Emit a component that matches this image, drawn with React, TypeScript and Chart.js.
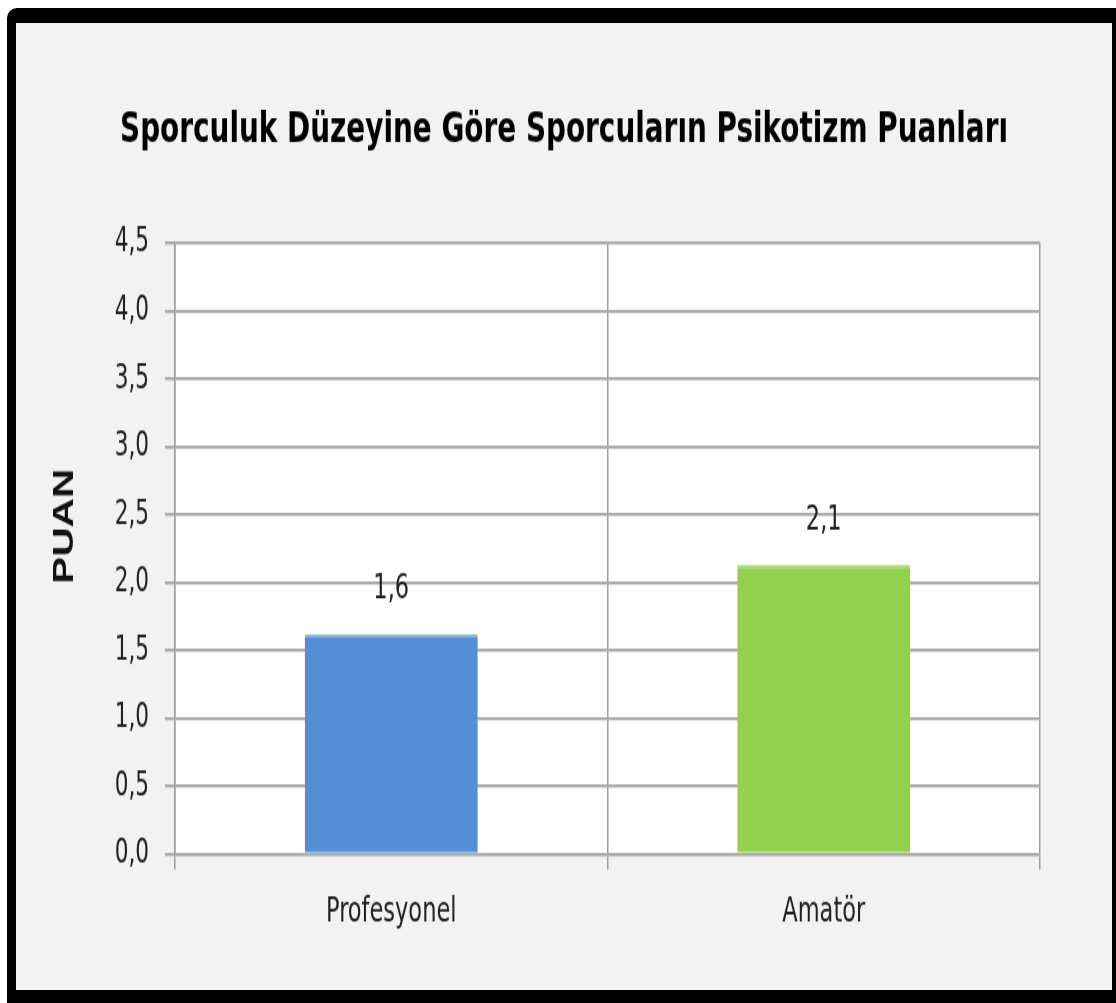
import React, { useEffect, useRef } from 'react';
import { Chart, registerables } from 'chart.js';

Chart.register(...registerables);

const titleText = 'Sporculuk Düzeyine Göre Sporcuların Psikotizm Puanları';
const yAxisTitle = 'PUAN';
const categories = ['Profesyonel', 'Amatör'];
const scores = [1.62, 2.13];
const barColors = ['#558ed5', '#92d050'];
const barTopColors = ['#8db4e2', '#a6da6c'];
const yMin = 0;
const yMax = 4.5;
const yStep = 0.5;

const NARROW = "'Liberation Sans Narrow', 'DejaVu Sans Condensed', 'Open Sans', sans-serif";
const CANVAS_W = 1096;
const FINAL_H = 967;
const CANVAS_H = 691;
const STRETCH = FINAL_H / CANVAS_H;

const fmt = (v: number) => v.toFixed(1).replace('.', ',');

const plotBg = {
  id: 'plotBg',
  beforeDraw(chart: any) {
    const { ctx, chartArea } = chart;
    ctx.save();
    ctx.fillStyle = '#ffffff';
    ctx.fillRect(chartArea.left, chartArea.top, chartArea.right - chartArea.left, chartArea.bottom - chartArea.top);
    ctx.restore();
  },
};

const valueLabels = {
  id: 'valueLabels',
  afterDatasetsDraw(chart: any) {
    const { ctx } = chart;
    const meta = chart.getDatasetMeta(0);
    const data = chart.data.datasets[0].data as number[];
    ctx.save();
    ctx.font = `25px ${NARROW}`;
    ctx.fillStyle = '#222222';
    ctx.textAlign = 'center';
    ctx.textBaseline = 'middle';
    meta.data.forEach((bar: any, i: number) => {
      ctx.fillText(fmt(data[i]), bar.x, bar.y - 32);
    });
    ctx.restore();
  },
};

const yTitlePlugin = {
  id: 'yTitlePlugin',
  afterDraw(chart: any) {
    const { ctx, chartArea } = chart;
    ctx.save();
    ctx.translate(chartArea.left - 110, (chartArea.top + chartArea.bottom) / 2 - 16);
    ctx.rotate(-Math.PI / 2);
    ctx.font = "bold 29px 'Liberation Sans', Arial, sans-serif";
    ctx.fillStyle = '#111111';
    ctx.textAlign = 'center';
    ctx.textBaseline = 'middle';
    ctx.fillText(yAxisTitle, 0, 0);
    ctx.restore();
  },
};

function BarChart() {
  const ref = useRef<HTMLCanvasElement | null>(null);
  useEffect(() => {
    if (!ref.current) return;
    const chart = new Chart(ref.current, {
      type: 'bar',
      data: {
        labels: categories,
        datasets: [
          {
            data: scores,
            backgroundColor: barColors,
            borderColor: barTopColors,
            borderWidth: { top: 2, left: 0, right: 0, bottom: 0 },
            borderSkipped: 'start',
            barPercentage: 0.4,
            categoryPercentage: 1,
            yAxisID: 'y',
          },
        ],
      },
      options: {
        responsive: false,
        animation: false,
        devicePixelRatio: 1,
        layout: { padding: 0 },
        plugins: {
          legend: { display: false },
          tooltip: { enabled: false },
          title: {
            display: true,
            text: titleText,
            color: '#000000',
            font: { family: NARROW, size: 31, weight: 'bold', lineHeight: 1.2 },
            padding: { top: 58, bottom: 62 },
          },
        },
        scales: {
          x: {
            offset: true,
            grid: {
              offset: true,
              color: '#a0a0a0',
              lineWidth: 1.5,
              drawTicks: true,
              tickLength: 11,
            },
            border: { display: true, color: '#acacac', width: 2.3 },
            ticks: {
              color: '#222222',
              font: { family: NARROW, size: 25 },
              padding: 15,
            },
            afterFit: (s: any) => {
              s.height = 97;
            },
          },
          y: {
            position: 'left',
            min: yMin,
            max: yMax,
            ticks: {
              stepSize: yStep,
              color: '#222222',
              font: { family: NARROW, size: 24 },
              padding: 16,
              callback: (v: any) => fmt(Number(v)),
            },
            grid: {
              color: '#acacac',
              lineWidth: 2.3,
              tickLength: 10,
            },
            border: { display: true, color: '#a0a0a0', width: 1.5 },
            afterFit: (s: any) => {
              s.width = 159;
            },
          },
          rightSpace: {
            type: 'linear',
            position: 'right',
            display: true,
            min: yMin,
            max: yMax,
            ticks: { display: false },
            grid: { display: false, drawTicks: false },
            border: { display: false },
            afterFit: (s: any) => {
              s.width = 72;
            },
          },
        },
      },
      plugins: [plotBg, valueLabels, yTitlePlugin],
    });
    return () => chart.destroy();
  }, []);

  return (
    <div
      style={{
        position: 'absolute',
        left: 16,
        top: 23,
        width: CANVAS_W,
        height: CANVAS_H,
        transform: `scaleY(${STRETCH})`,
        transformOrigin: '0 0',
      }}
    >
      <canvas ref={ref} width={CANVAS_W} height={CANVAS_H} style={{ display: 'block' }} />
    </div>
  );
}

export default function App() {
  return (
    <div
      style={{
        position: 'absolute',
        left: 0,
        top: 0,
        width: 1116,
        height: 1003,
        background: '#ffffff',
        overflow: 'hidden',
      }}
    >
      <div
        style={{
          position: 'absolute',
          left: 7,
          top: 8,
          width: 1109,
          height: 995,
          boxSizing: 'border-box',
          borderStyle: 'solid',
          borderColor: '#000000',
          borderWidth: '15px 4px 13px 9px',
          borderTopLeftRadius: 10,
          background: '#f2f2f2',
        }}
      />
      <BarChart />
    </div>
  );
}
